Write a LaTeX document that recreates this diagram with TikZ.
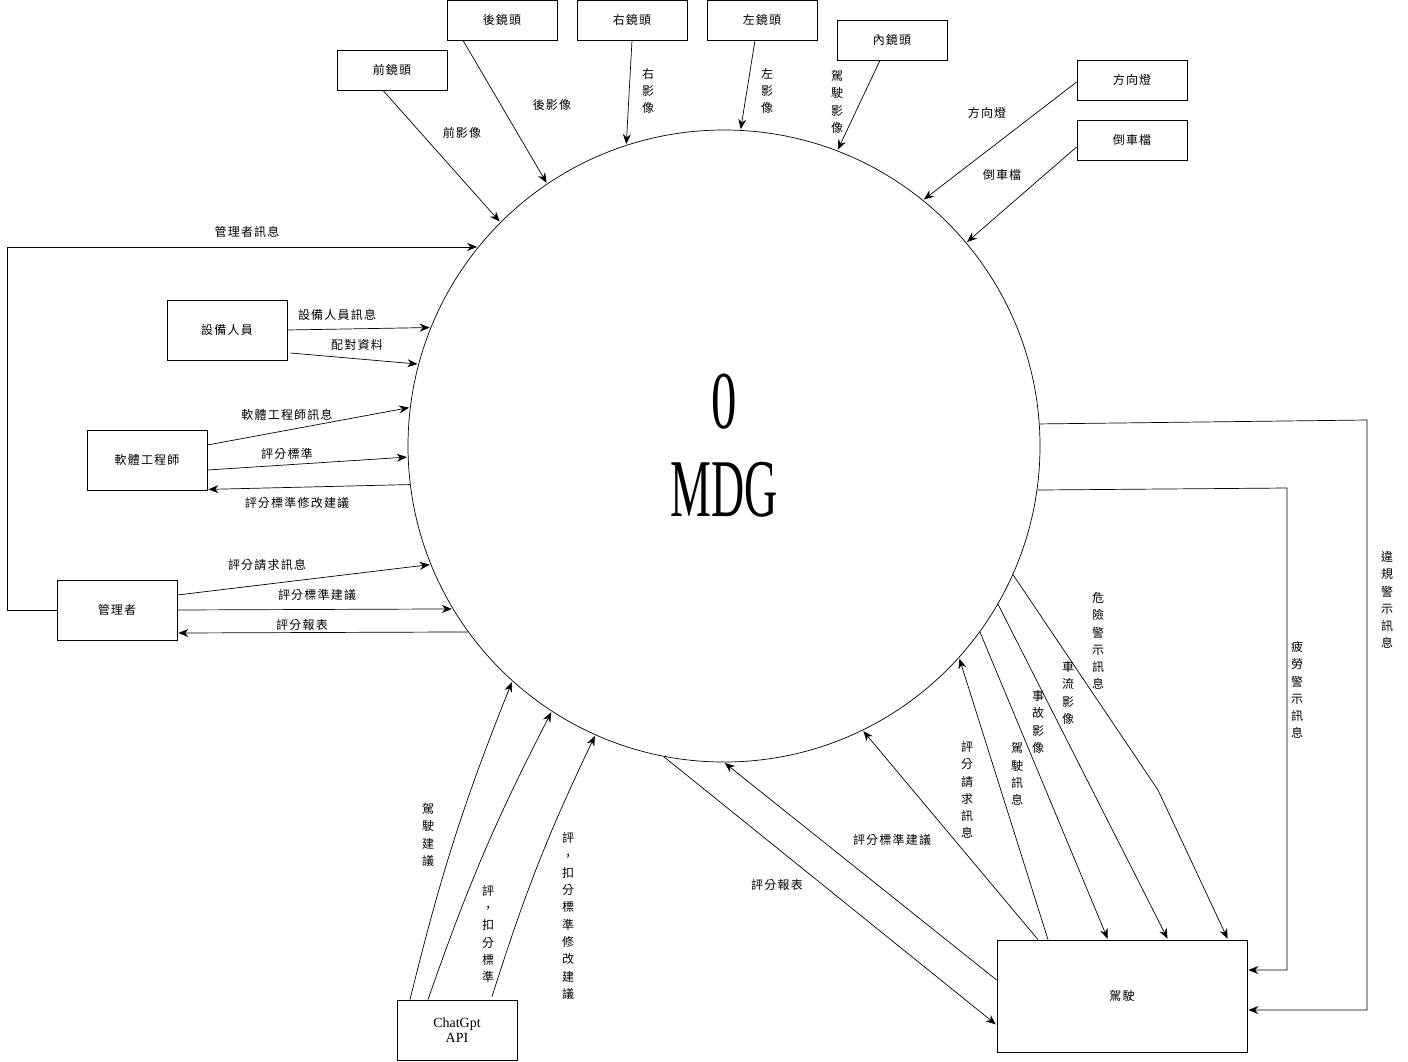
\documentclass[tikz,border=0pt]{standalone}
\usepackage{fontspec}
\usepackage{graphicx}
\setmainfont{Liberation Serif}
\newfontfamily\cjk[LetterSpace=10]{Noto Sans CJK TC}
\usetikzlibrary{arrows.meta,positioning}

\tikzset{
  entity/.style={draw, rectangle, line width=0.8pt, minimum width=110pt, minimum height=40pt,
    inner sep=0pt, font=\cjk\fontsize{12}{14}\selectfont},
  bigentity/.style={entity, minimum width=120pt, minimum height=60pt},
  process/.style={draw, circle, minimum size=632pt, inner sep=0pt, align=center,
    font=\fontsize{82}{88}\selectfont},
  flow/.style={inner sep=0pt, font=\cjk\fontsize{12}{14}\selectfont},
  vflow/.style={inner sep=0pt, align=center, font=\cjk\fontsize{12}{17.3}\selectfont},
}

\begin{document}
\begin{tikzpicture}[x=1pt,y=-1pt,node distance=130pt,on grid,shorten >=1pt,
  >={Stealth[length=10pt,width=8pt]},line width=0.7pt]
\useasboundingbox (0,0) rectangle (1408,1061);

% process
\node[process] (mdg) at (724,446) {\scalebox{0.62}[1]{0}\\\scalebox{0.56}[1]{MDG}};

% cameras and car signals
\node[entity] (front) at (392,70) {前鏡頭};
\node[entity] (rear) [above right=50pt and 110pt of front] {後鏡頭};
\node[entity] (rightcam) [right=of rear] {右鏡頭};
\node[entity] (leftcam) [right=of rightcam] {左鏡頭};
\node[entity] (inner) [below right=20pt and 130pt of leftcam] {內鏡頭};
\node[entity] (turn) at (1132,80) {方向燈};
\node[entity] (reverse) [below=60pt of turn] {倒車檔};

% people
\node[bigentity] (equip) at (227,330) {設備人員};
\node[bigentity] (eng) at (147,460) {軟體工程師};
\node[bigentity] (mgr) at (117,610) {管理者};
\node[bigentity, font=\fontsize{14}{15}\selectfont, align=center] (gpt) at (457,1030) {ChatGpt\\API};
\node[entity, minimum width=250pt, minimum height=112pt] (drv) at (1122,996) {駕駛};

% flows in from the car
\path[->]
([xshift=-9pt]front.south) edge (mdg.135)
([xshift=-39pt]rear.south) edge (mdg.124.7)
(rightcam.south) edge (mdg.108.4)
([xshift=-7pt]leftcam.south) edge (mdg.87.6)
([xshift=-12pt]inner.south) edge (mdg.69)
([yshift=-2pt]turn.west) edge (mdg.51.2)
([yshift=-7pt]reverse.west) edge (mdg.40.8);

% left side
\path[->]
(equip.east) edge (mdg.158.5)
([xshift=3pt,yshift=-23pt]equip.east) edge (mdg.165.2)
([yshift=15pt]eng.east) edge (mdg.173.6)
([yshift=-10pt]eng.east) edge (mdg.182.7)
(mdg.187.9) edge ([yshift=1pt]eng.south east)
([yshift=15pt]mgr.east) edge (mdg.202.5)
(mgr.east) edge (mdg.211.3)
(mdg.216.3) edge ([yshift=-23pt]mgr.east);
\draw[->] (mgr.west) -- ++(-49,0) |- (mdg.141);

% chatgpt
\path[->]
([xshift=-47pt]gpt.north) edge[bend left=4] (mdg.228.6)
([xshift=-29pt]gpt.north) edge[bend left=4] (mdg.237.1)
([xshift=35pt,yshift=3pt]gpt.north) edge[bend left=4] (mdg.246.9);

% driver
\path[->]
(mdg.259.9) edge ([yshift=-29pt]drv.west)
([yshift=16pt]drv.west) edge (mdg.270)
([xshift=-84pt]drv.north) edge (mdg.296.9)
([xshift=-74pt]drv.north) edge (mdg.318.2)
(mdg.324) edge ([xshift=-14pt]drv.north)
(mdg.330.3) edge ([xshift=46pt]drv.north);
\draw[->] (mdg.336.1) -- (1158,790) -- ([xshift=106pt]drv.north);
\draw[->] (mdg.352.4) -- (1287,488) |- ([yshift=26pt]drv.east);
\draw[->] (mdg.4.7) -- (1367,420) |- ([yshift=-14pt]drv.east);

% labels
\node[flow] (l-front) at (462,133) {前影像};
\node[flow] (l-rear) at (552,105) {後影像};
\node[vflow] (l-right) at (648,91) {右\\影\\像};
\node[vflow] (l-left) at (767,91) {左\\影\\像};
\node[vflow] (l-inner) at (837,102) {駕\\駛\\影\\像};
\node[flow] (l-turn) at (987,113) {方向燈};
\node[flow] (l-reverse) at (1002,175) {倒車檔};
\node[flow] (l-mgrinfo) at (247,232) {管理者訊息};
\node[flow] (l-equip) at (337,315) {設備人員訊息};
\node[flow] (l-pair) at (357,345) {配對資料};
\node[flow] (l-enginfo) at (287,415) {軟體工程師訊息};
\node[flow] (l-std) at (287,454) {評分標準};
\node[flow] (l-stdfix) at (297,503) {評分標準修改建議};
\node[flow] (l-req) at (267,565) {評分請求訊息};
\node[flow] (l-stdsug) at (317,595) {評分標準建議};
\node[flow] (l-report) at (302,625) {評分報表};
\node[vflow] (l-drvsug) at (428,835) {駕\\駛\\建\\議};
\node[vflow] (l-gptstd) at (488,934) {評\\，\\扣\\分\\標\\準};
\node[vflow] (l-gptfix) at (568,916) {評\\，\\扣\\分\\標\\準\\修\\改\\建\\議};
\node[flow] (l-drvreport) at (777,885) {評分報表};
\node[flow] (l-drvstdsug) at (892,840) {評分標準建議};
\node[vflow] (l-drvreq) at (967,790) {評\\分\\請\\求\\訊\\息};
\node[vflow] (l-drvinfo) at (1017,774) {駕\\駛\\訊\\息};
\node[vflow] (l-crash) at (1038,722) {事\\故\\影\\像};
\node[vflow] (l-traffic) at (1068,693) {車\\流\\影\\像};
\node[vflow] (l-danger) at (1098,641) {危\\險\\警\\示\\訊\\息};
\node[vflow] (l-fatigue) at (1297,690) {疲\\勞\\警\\示\\訊\\息};
\node[vflow] (l-violate) at (1387,600) {違\\規\\警\\示\\訊\\息};
\end{tikzpicture}
\end{document}
